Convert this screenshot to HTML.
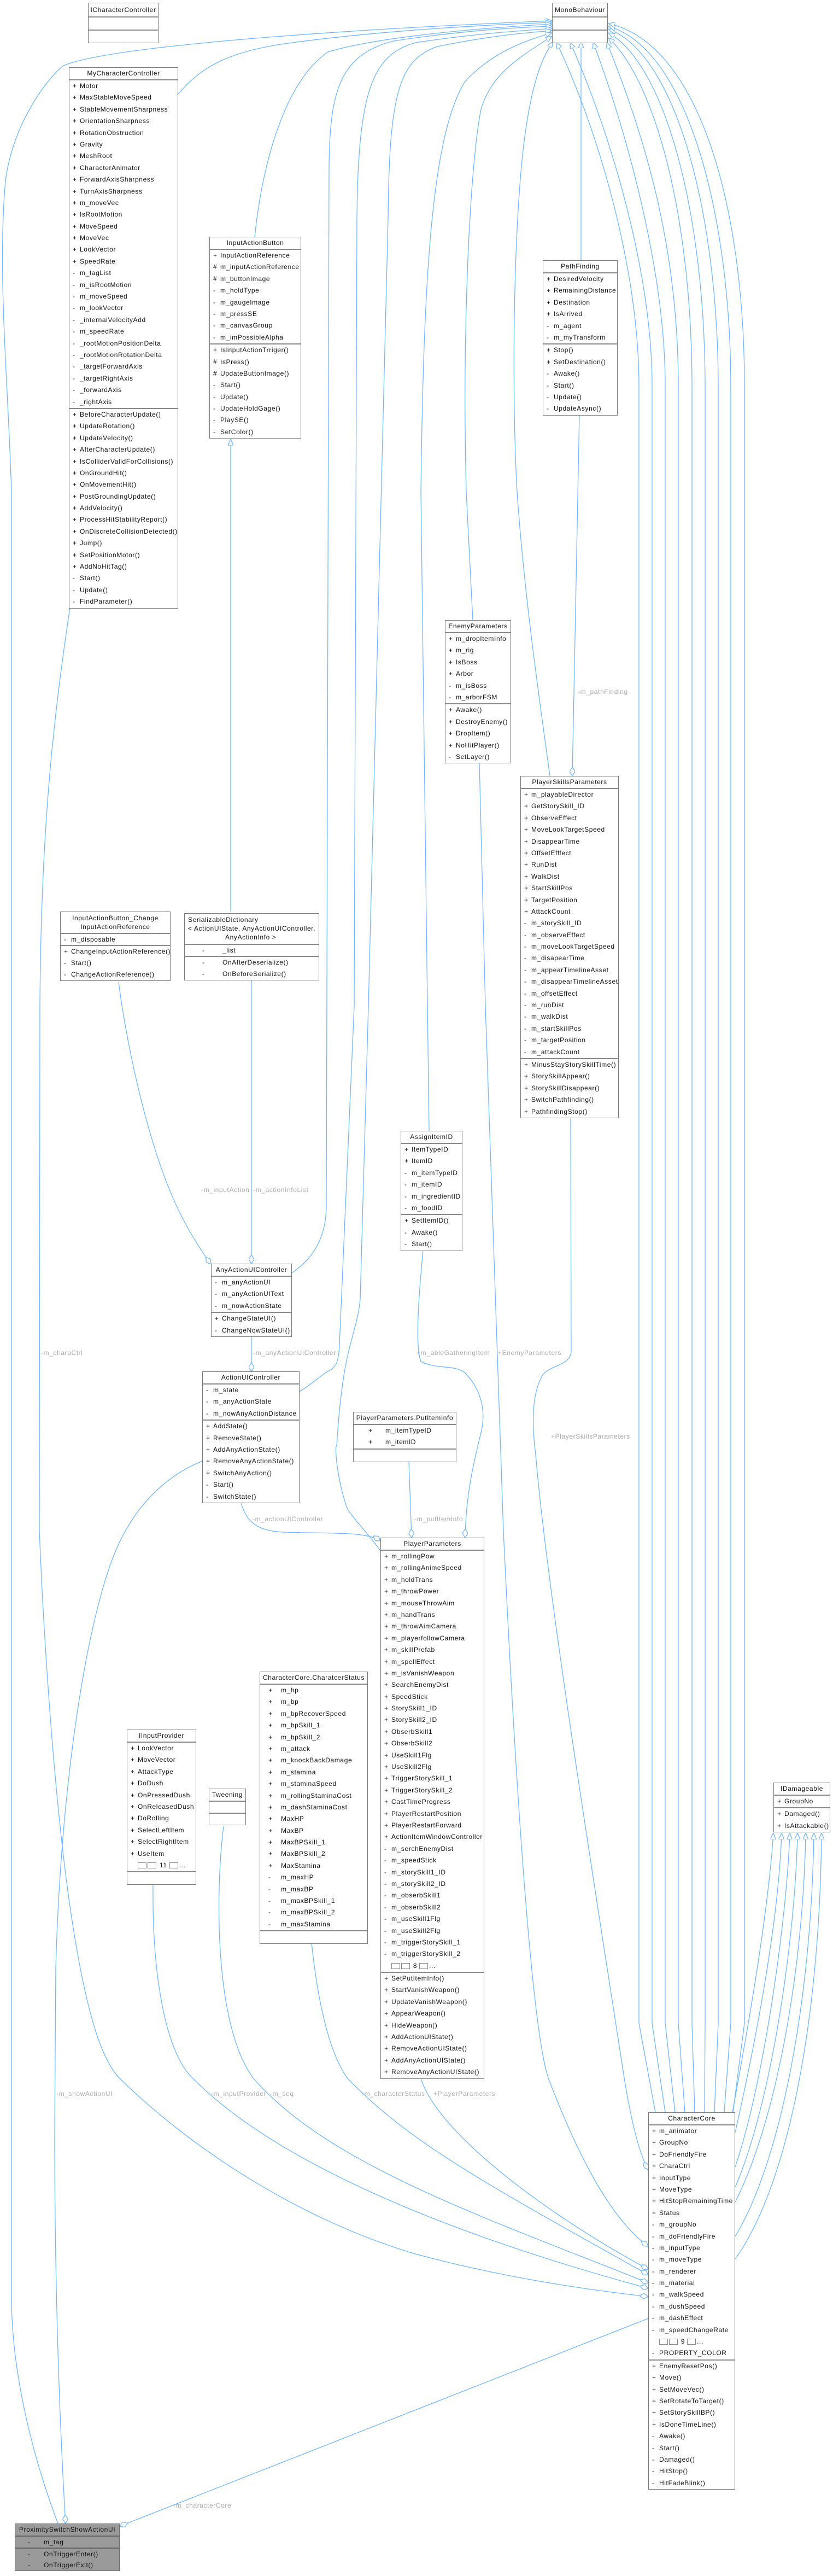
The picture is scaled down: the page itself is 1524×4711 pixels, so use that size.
<!DOCTYPE html>
<html><head><meta charset="utf-8">
<style>
body{margin:0;background:#fff;}
#c{position:relative;width:1524px;height:4711px;overflow:hidden;font-family:"Liberation Sans",sans-serif;font-size:12px;letter-spacing:.6px;color:#111;}
.b{position:absolute;box-sizing:border-box;border:1px solid #7a7a7a;background:#fff;}
.t{text-align:center;height:21px;line-height:21px;border-bottom:2px solid #8a8a8a;white-space:nowrap;}
.s{border-top:2px solid #8a8a8a;}
.t + .s{border-top:none}
.r{height:21.4px;line-height:21.4px;white-space:nowrap;padding-left:19px;position:relative;}
.r i{font-style:normal;position:absolute;left:6px;}
.w .r{padding-left:38px}.w .r i{left:15px}
.e{height:22px}
.lb{position:absolute;color:#aaa;font-size:12px;white-space:nowrap;}
.g{display:inline-block;width:14px;height:9px;border:1px solid #888;margin-right:2px;vertical-align:middle}
svg{position:absolute;left:0;top:0}
</style></head><body><div id="c">
<svg width="1524" height="4711" fill="none" stroke="#6cb6ff" stroke-width="1.3">
<defs>
<marker id="tr" markerUnits="userSpaceOnUse" viewBox="0 0 12 10" refX="12" refY="5" markerWidth="12" markerHeight="10" orient="auto"><path d="M0,0 L12,5 L0,10 z" fill="#fff" stroke="#6cb6ff"/></marker>
<marker id="dm" markerUnits="userSpaceOnUse" viewBox="0 0 16 10" refX="16" refY="5" markerWidth="16" markerHeight="10" orient="auto"><path d="M0,5 L8,0 L16,5 L8,10 z" fill="#fff" stroke="#6cb6ff"/></marker>
</defs>
<g marker-end="url(#tr)">
<path d="M106,4615 C55,4480 21,4330 21,4200 L21,900 C15,700 -5,500 10,330 C25,220 90,140 116,120 C200,85 600,55 1010,38"/>
<path d="M326,172 C370,120 420,95 520,80 C700,55 900,45 1010,41"/>
<path d="M466,433 C480,300 520,150 600,95 C700,65 900,50 1010,44"/>
<path d="M534,2328 C575,2300 598,2260 597,2200 L602,300 C604,170 620,100 720,75 C850,55 950,50 1010,48"/>
<path d="M548,2545 C575,2528 590,2512 605,2505 C618,2498 620,2480 621,2460 L648,1840 L653,400 C655,170 680,100 760,78 C880,60 960,56 1010,52"/>
<path d="M696,2836 C670,2800 640,2770 635,2758 C615,2700 612,2640 616,2644 C620,2580 625,2540 630,2510 C640,2450 655,2420 659,2376 L674,1840 L710,400 C712,170 730,110 800,85 C900,65 960,60 1010,56"/>
<path d="M785,2068 L770,900 C775,500 790,250 850,150 C900,95 960,75 1010,60"/>
<path d="M865,1134 L853,900 C845,600 860,300 880,200 C900,130 960,100 1010,66"/>
<path d="M1006,1419 C990,1300 960,1100 946,900 C935,700 940,400 960,250 C975,140 995,100 1012,76"/>
<path d="M1063,476 L1063,76"/>
<path d="M1199,3863 L1169,3700 L1169,700 C1168,500 1100,250 1018,77"/>
<path d="M1217,3863 L1193,3700 L1193,700 C1192,500 1120,250 1043,77"/>
<path d="M1235,3863 L1217,3700 L1217,700 C1216,500 1150,250 1085,77"/>
<path d="M1253,3863 L1241,3700 L1241,700 C1240,450 1180,250 1110,77"/>
<path d="M1271,3863 L1266,3700 L1266,700 C1265,400 1200,150 1113,69"/>
<path d="M1289,3863 L1290,3700 L1290,700 C1289,400 1220,120 1113,60"/>
<path d="M1307,3863 L1314,3700 L1314,700 C1313,400 1240,100 1113,53"/>
<path d="M1325,3863 L1337,3700 L1337,700 C1336,400 1260,90 1113,48"/>
<path d="M1341,3863 L1362,3700 L1362,700 C1361,380 1280,80 1113,43"/>
<path d="M422,1667 L422,803"/>
<path d="M1340,3863 C1370,3700 1405,3500 1415,3352"/>
<path d="M1345,3900 C1390,3700 1425,3500 1430,3352"/>
<path d="M1345,3963 C1400,3800 1440,3500 1445,3352"/>
<path d="M1345,4000 C1410,3850 1455,3550 1459,3352"/>
<path d="M1345,4027 C1420,3880 1470,3600 1474,3352"/>
<path d="M1345,4090 C1430,3950 1485,3650 1489,3352"/>
<path d="M1345,4131 C1440,4000 1500,3700 1503,3352"/>
</g>
<g marker-end="url(#dm)">
<path d="M1060,758 L1047,1419"/>
<path d="M217,1796 C230,1900 270,2100 330,2220 C350,2260 370,2290 386,2312"/>
<path d="M460,1793 L460,2311"/>
<path d="M460,2443 L460,2508"/>
<path d="M440,2747 C450,2775 460,2800 520,2802 C600,2805 670,2800 696,2818"/>
<path d="M774,2286 C768,2350 758,2460 770,2490 C800,2505 830,2495 850,2510 C880,2540 890,2580 880,2620 C865,2680 852,2740 851,2812"/>
<path d="M748,2673 L753,2812"/>
<path d="M128,1111 C100,1300 75,1500 73,1840 L72,2800 C80,3000 100,3300 130,3500 C160,3700 190,3770 218,3800 C350,3930 550,4060 760,4122 C900,4160 1050,4185 1186,4200"/>
<path d="M370,2672 C300,2700 240,2760 206,2850 C150,3000 110,3300 102,3600 L100,3900 C100,4200 110,4450 120,4615"/>
<path d="M280,3446 C278,3600 300,3750 352,3800 C500,3950 800,4080 1186,4185"/>
<path d="M409,3340 C395,3450 390,3700 463,3800 C600,3960 900,4060 1186,4175"/>
<path d="M570,3553 C580,3650 600,3750 635,3800 C750,3920 900,4000 1186,4160"/>
<path d="M770,3801 C800,3900 1000,4050 1186,4150"/>
<path d="M877,1396 L888,1840 L921,2800 C940,3200 970,3700 1003,3800 C1060,3950 1120,4060 1186,4108"/>
<path d="M1044,2043 L1045,2470 C1045,2500 1000,2495 990,2520 C970,2560 975,2620 980,2660 C1000,2900 1080,3400 1142,3800 C1155,3880 1170,3940 1186,3968"/>
<path d="M1186,4240 L219,4620"/>
</g>
</svg>

<div class="lb" style="left:1057px;top:1258px">-m_pathFinding</div>
<div class="lb" style="left:368px;top:2169px">-m_inputAction</div>
<div class="lb" style="left:463px;top:2169px">-m_actionInfoList</div>
<div class="lb" style="left:75px;top:2467px">-m_charaCtrl</div>
<div class="lb" style="left:463px;top:2467px">-m_anyActionUIController</div>
<div class="lb" style="left:762px;top:2467px">+m_ableGatheringItem</div>
<div class="lb" style="left:911px;top:2467px">+EnemyParameters</div>
<div class="lb" style="left:1008px;top:2620px">+PlayerSkillsParameters</div>
<div class="lb" style="left:462px;top:2771px">-m_actionUIController</div>
<div class="lb" style="left:758px;top:2771px">-m_putItemInfo</div>
<div class="lb" style="left:103px;top:3822px">-m_showActionUI</div>
<div class="lb" style="left:386px;top:3822px">-m_inputProvider</div>
<div class="lb" style="left:494px;top:3822px">-m_seq</div>
<div class="lb" style="left:662px;top:3822px">-m_characterStatus</div>
<div class="lb" style="left:793px;top:3822px">+PlayerParameters</div>
<div class="lb" style="left:317px;top:4575px">-m_characterCore</div>

<div class="b" style="left:161px;top:5px;width:129px"><div class="t" style="height:24px;line-height:24px">ICharacterController</div><div class="s e"></div><div class="s e"></div></div>
<div class="b" style="left:1010px;top:5px;width:102px"><div class="t" style="height:24px;line-height:24px">MonoBehaviour</div><div class="s e"></div><div class="s e"></div></div>

<div class="b" style="left:126px;top:123px;width:200px"><div class="t">MyCharacterController</div>
<div class="s">
<div class="r"><i>+</i>Motor</div><div class="r"><i>+</i>MaxStableMoveSpeed</div><div class="r"><i>+</i>StableMovementSharpness</div><div class="r"><i>+</i>OrientationSharpness</div><div class="r"><i>+</i>RotationObstruction</div><div class="r"><i>+</i>Gravity</div><div class="r"><i>+</i>MeshRoot</div><div class="r"><i>+</i>CharacterAnimator</div><div class="r"><i>+</i>ForwardAxisSharpness</div><div class="r"><i>+</i>TurnAxisSharpness</div><div class="r"><i>+</i>m_moveVec</div><div class="r"><i>+</i>IsRootMotion</div><div class="r"><i>+</i>MoveSpeed</div><div class="r"><i>+</i>MoveVec</div><div class="r"><i>+</i>LookVector</div><div class="r"><i>+</i>SpeedRate</div><div class="r"><i>-</i>m_tagList</div><div class="r"><i>-</i>m_isRootMotion</div><div class="r"><i>-</i>m_moveSpeed</div><div class="r"><i>-</i>m_lookVector</div><div class="r"><i>-</i>_internalVelocityAdd</div><div class="r"><i>-</i>m_speedRate</div><div class="r"><i>-</i>_rootMotionPositionDelta</div><div class="r"><i>-</i>_rootMotionRotationDelta</div><div class="r"><i>-</i>_targetForwardAxis</div><div class="r"><i>-</i>_targetRightAxis</div><div class="r"><i>-</i>_forwardAxis</div><div class="r"><i>-</i>_rightAxis</div>
</div><div class="s">
<div class="r"><i>+</i>BeforeCharacterUpdate()</div><div class="r"><i>+</i>UpdateRotation()</div><div class="r"><i>+</i>UpdateVelocity()</div><div class="r"><i>+</i>AfterCharacterUpdate()</div><div class="r"><i>+</i>IsColliderValidForCollisions()</div><div class="r"><i>+</i>OnGroundHit()</div><div class="r"><i>+</i>OnMovementHit()</div><div class="r"><i>+</i>PostGroundingUpdate()</div><div class="r"><i>+</i>AddVelocity()</div><div class="r"><i>+</i>ProcessHitStabilityReport()</div><div class="r"><i>+</i>OnDiscreteCollisionDetected()</div><div class="r"><i>+</i>Jump()</div><div class="r"><i>+</i>SetPositionMotor()</div><div class="r"><i>+</i>AddNoHitTag()</div><div class="r"><i>-</i>Start()</div><div class="r"><i>-</i>Update()</div><div class="r"><i>-</i>FindParameter()</div>
</div></div>

<div class="b" style="left:383px;top:433px;width:168px"><div class="t">InputActionButton</div>
<div class="s"><div class="r"><i>+</i>InputActionReference</div><div class="r"><i>#</i>m_inputActionReference</div><div class="r"><i>#</i>m_buttonImage</div><div class="r"><i>-</i>m_holdType</div><div class="r"><i>-</i>m_gaugeImage</div><div class="r"><i>-</i>m_pressSE</div><div class="r"><i>-</i>m_canvasGroup</div><div class="r"><i>-</i>m_imPossibleAlpha</div></div>
<div class="s"><div class="r"><i>+</i>IsInputActionTrriger()</div><div class="r"><i>#</i>IsPress()</div><div class="r"><i>#</i>UpdateButtonImage()</div><div class="r"><i>-</i>Start()</div><div class="r"><i>-</i>Update()</div><div class="r"><i>-</i>UpdateHoldGage()</div><div class="r"><i>-</i>PlaySE()</div><div class="r"><i>-</i>SetColor()</div></div></div>

<div class="b" style="left:993px;top:476px;width:137px"><div class="t">PathFinding</div>
<div class="s"><div class="r"><i>+</i>DesiredVelocity</div><div class="r"><i>+</i>RemainingDistance</div><div class="r"><i>+</i>Destination</div><div class="r"><i>+</i>IsArrived</div><div class="r"><i>-</i>m_agent</div><div class="r"><i>-</i>m_myTransform</div></div>
<div class="s"><div class="r"><i>+</i>Stop()</div><div class="r"><i>+</i>SetDestination()</div><div class="r"><i>-</i>Awake()</div><div class="r"><i>-</i>Start()</div><div class="r"><i>-</i>Update()</div><div class="r"><i>-</i>UpdateAsync()</div></div></div>

<div class="b" style="left:814px;top:1134px;width:121px"><div class="t">EnemyParameters</div>
<div class="s"><div class="r"><i>+</i>m_dropItemInfo</div><div class="r"><i>+</i>m_rig</div><div class="r"><i>+</i>IsBoss</div><div class="r"><i>+</i>Arbor</div><div class="r"><i>-</i>m_isBoss</div><div class="r"><i>-</i>m_arborFSM</div></div>
<div class="s"><div class="r"><i>+</i>Awake()</div><div class="r"><i>+</i>DestroyEnemy()</div><div class="r"><i>+</i>DropItem()</div><div class="r"><i>+</i>NoHitPlayer()</div><div class="r"><i>-</i>SetLayer()</div></div></div>

<div class="b" style="left:952px;top:1419px;width:180px"><div class="t">PlayerSkillsParameters</div>
<div class="s"><div class="r"><i>+</i>m_playableDirector</div><div class="r"><i>+</i>GetStorySkill_ID</div><div class="r"><i>+</i>ObserveEffect</div><div class="r"><i>+</i>MoveLookTargetSpeed</div><div class="r"><i>+</i>DisappearTime</div><div class="r"><i>+</i>OffsetEfffect</div><div class="r"><i>+</i>RunDist</div><div class="r"><i>+</i>WalkDist</div><div class="r"><i>+</i>StartSkillPos</div><div class="r"><i>+</i>TargetPosition</div><div class="r"><i>+</i>AttackCount</div><div class="r"><i>-</i>m_storySkill_ID</div><div class="r"><i>-</i>m_observeEffect</div><div class="r"><i>-</i>m_moveLookTargetSpeed</div><div class="r"><i>-</i>m_disapearTime</div><div class="r"><i>-</i>m_appearTimelineAsset</div><div class="r"><i>-</i>m_disappearTimelineAsset</div><div class="r"><i>-</i>m_offsetEffect</div><div class="r"><i>-</i>m_runDist</div><div class="r"><i>-</i>m_walkDist</div><div class="r"><i>-</i>m_startSkillPos</div><div class="r"><i>-</i>m_targetPosition</div><div class="r"><i>-</i>m_attackCount</div></div>
<div class="s"><div class="r"><i>+</i>MinusStayStorySkillTime()</div><div class="r"><i>+</i>StorySkillAppear()</div><div class="r"><i>+</i>StorySkillDisappear()</div><div class="r"><i>+</i>SwitchPathfinding()</div><div class="r"><i>+</i>PathfindingStop()</div></div></div>

<div class="b" style="left:110px;top:1667px;width:202px"><div class="t" style="height:37px;line-height:16px;padding-top:3px;box-sizing:border-box;height:40px">InputActionButton_Change<br>InputActionReference</div>
<div class="s"><div class="r" style="height:20px;line-height:20px"><i>-</i>m_disposable</div></div>
<div class="s"><div class="r" style="height:21px;line-height:21px"><i>+</i>ChangeInputActionReference()</div><div class="r" style="height:21px;line-height:21px"><i>-</i>Start()</div><div class="r" style="height:21px;line-height:21px"><i>-</i>ChangeActionReference()</div></div></div>

<div class="b" style="left:337px;top:1670px;width:247px"><div class="t" style="height:57px;line-height:16px;padding-top:3px;box-sizing:border-box;text-align:left;padding-left:6px">SerializableDictionary<br>&lt; ActionUIState, AnyActionUIController.<br><span style="padding-left:68px">AnyActionInfo &gt;</span></div>
<div class="s"><div class="r" style="height:20px;line-height:20px;padding-left:69px"><i style="left:32px">-</i>_list</div></div>
<div class="s"><div class="r" style="height:21px;line-height:21px;padding-left:69px"><i style="left:32px">-</i>OnAfterDeserialize()</div><div class="r" style="height:21px;line-height:21px;padding-left:69px"><i style="left:32px">-</i>OnBeforeSerialize()</div></div></div>

<div class="b" style="left:733px;top:2068px;width:113px"><div class="t">AssignItemID</div>
<div class="s"><div class="r"><i>+</i>ItemTypeID</div><div class="r"><i>+</i>ItemID</div><div class="r"><i>-</i>m_itemTypeID</div><div class="r"><i>-</i>m_itemID</div><div class="r"><i>-</i>m_ingredientID</div><div class="r"><i>-</i>m_foodID</div></div>
<div class="s"><div class="r"><i>+</i>SetItemID()</div><div class="r"><i>-</i>Awake()</div><div class="r"><i>-</i>Start()</div></div></div>

<div class="b" style="left:386px;top:2311px;width:148px"><div class="t">AnyActionUIController</div>
<div class="s"><div class="r"><i>-</i>m_anyActionUI</div><div class="r"><i>-</i>m_anyActionUIText</div><div class="r"><i>-</i>m_nowActionState</div></div>
<div class="s"><div class="r"><i>+</i>ChangeStateUI()</div><div class="r"><i>-</i>ChangeNowStateUI()</div></div></div>

<div class="b" style="left:370px;top:2508px;width:178px"><div class="t">ActionUIController</div>
<div class="s"><div class="r"><i>-</i>m_state</div><div class="r"><i>-</i>m_anyActionState</div><div class="r"><i>-</i>m_nowAnyActionDistance</div></div>
<div class="s"><div class="r"><i>+</i>AddState()</div><div class="r"><i>+</i>RemoveState()</div><div class="r"><i>+</i>AddAnyActionState()</div><div class="r"><i>+</i>RemoveAnyActionState()</div><div class="r"><i>+</i>SwitchAnyAction()</div><div class="r"><i>-</i>Start()</div><div class="r"><i>-</i>SwitchState()</div></div></div>

<div class="b" style="left:646px;top:2582px;width:189px"><div class="t">PlayerParameters.PutItemInfo</div>
<div class="s"><div class="r" style="padding-left:58px"><i style="left:27px">+</i>m_itemTypeID</div><div class="r" style="padding-left:58px"><i style="left:27px">+</i>m_itemID</div></div>
<div class="s e"></div></div>

<div class="b" style="left:696px;top:2812px;width:190px"><div class="t">PlayerParameters</div>
<div class="s"><div class="r"><i>+</i>m_rollingPow</div><div class="r"><i>+</i>m_rollingAnimeSpeed</div><div class="r"><i>+</i>m_holdTrans</div><div class="r"><i>+</i>m_throwPower</div><div class="r"><i>+</i>m_mouseThrowAim</div><div class="r"><i>+</i>m_handTrans</div><div class="r"><i>+</i>m_throwAimCamera</div><div class="r"><i>+</i>m_playerfollowCamera</div><div class="r"><i>+</i>m_skillPrefab</div><div class="r"><i>+</i>m_spellEffect</div><div class="r"><i>+</i>m_isVanishWeapon</div><div class="r"><i>+</i>SearchEnemyDist</div><div class="r"><i>+</i>SpeedStick</div><div class="r"><i>+</i>StorySkill1_ID</div><div class="r"><i>+</i>StorySkill2_ID</div><div class="r"><i>+</i>ObserbSkill1</div><div class="r"><i>+</i>ObserbSkill2</div><div class="r"><i>+</i>UseSkill1Flg</div><div class="r"><i>+</i>UseSkill2Flg</div><div class="r"><i>+</i>TriggerStorySkill_1</div><div class="r"><i>+</i>TriggerStorySkill_2</div><div class="r"><i>+</i>CastTimeProgress</div><div class="r"><i>+</i>PlayerRestartPosition</div><div class="r"><i>+</i>PlayerRestartForward</div><div class="r"><i>+</i>ActionItemWindowController</div><div class="r"><i>-</i>m_serchEnemyDist</div><div class="r"><i>-</i>m_speedStick</div><div class="r"><i>-</i>m_storySkill1_ID</div><div class="r"><i>-</i>m_storySkill2_ID</div><div class="r"><i>-</i>m_obserbSkill1</div><div class="r"><i>-</i>m_obserbSkill2</div><div class="r"><i>-</i>m_useSkill1Flg</div><div class="r"><i>-</i>m_useSkill2Flg</div><div class="r"><i>-</i>m_triggerStorySkill_1</div><div class="r"><i>-</i>m_triggerStorySkill_2</div><div class="r"><span class="g"></span><span class="g"></span> 8 <span class="g"></span>...</div></div>
<div class="s"><div class="r"><i>+</i>SetPutItemInfo()</div><div class="r"><i>+</i>StartVanishWeapon()</div><div class="r"><i>+</i>UpdateVanishWeapon()</div><div class="r"><i>+</i>AppearWeapon()</div><div class="r"><i>+</i>HideWeapon()</div><div class="r"><i>+</i>AddActionUIState()</div><div class="r"><i>+</i>RemoveActionUIState()</div><div class="r"><i>+</i>AddAnyActionUIState()</div><div class="r"><i>+</i>RemoveAnyActionUIState()</div></div></div>

<div class="b w" style="left:475px;top:3057px;width:198px"><div class="t">CharacterCore.CharatcerStatus</div>
<div class="s"><div class="r"><i>+</i>m_hp</div><div class="r"><i>+</i>m_bp</div><div class="r"><i>+</i>m_bpRecoverSpeed</div><div class="r"><i>+</i>m_bpSkill_1</div><div class="r"><i>+</i>m_bpSkill_2</div><div class="r"><i>+</i>m_attack</div><div class="r"><i>+</i>m_knockBackDamage</div><div class="r"><i>+</i>m_stamina</div><div class="r"><i>+</i>m_staminaSpeed</div><div class="r"><i>+</i>m_rollingStaminaCost</div><div class="r"><i>+</i>m_dashStaminaCost</div><div class="r"><i>+</i>MaxHP</div><div class="r"><i>+</i>MaxBP</div><div class="r"><i>+</i>MaxBPSkill_1</div><div class="r"><i>+</i>MaxBPSkill_2</div><div class="r"><i>+</i>MaxStamina</div><div class="r"><i>-</i>m_maxHP</div><div class="r"><i>-</i>m_maxBP</div><div class="r"><i>-</i>m_maxBPSkill_1</div><div class="r"><i>-</i>m_maxBPSkill_2</div><div class="r"><i>-</i>m_maxStamina</div></div>
<div class="s e"></div></div>

<div class="b" style="left:232px;top:3163px;width:127px"><div class="t">IInputProvider</div>
<div class="s"><div class="r"><i>+</i>LookVector</div><div class="r"><i>+</i>MoveVector</div><div class="r"><i>+</i>AttackType</div><div class="r"><i>+</i>DoDush</div><div class="r"><i>+</i>OnPressedDush</div><div class="r"><i>+</i>OnReleasedDush</div><div class="r"><i>+</i>DoRolling</div><div class="r"><i>+</i>SelectLeftItem</div><div class="r"><i>+</i>SelectRightItem</div><div class="r"><i>+</i>UseItem</div><div class="r"><span class="g"></span><span class="g"></span> 11 <span class="g"></span>...</div></div>
<div class="s e"></div></div>

<div class="b" style="left:382px;top:3271px;width:68px"><div class="t">Tweening</div><div class="s e" style="height:20px"></div><div class="s e" style="height:20px"></div></div>

<div class="b" style="left:1415px;top:3260px;width:104px"><div class="t">IDamageable</div>
<div class="s"><div class="r"><i>+</i>GroupNo</div></div>
<div class="s"><div class="r"><i>+</i>Damaged()</div><div class="r"><i>+</i>IsAttackable()</div></div></div>

<div class="b" style="left:1186px;top:3863px;width:159px"><div class="t">CharacterCore</div>
<div class="s"><div class="r"><i>+</i>m_animator</div><div class="r"><i>+</i>GroupNo</div><div class="r"><i>+</i>DoFriendlyFire</div><div class="r"><i>+</i>CharaCtrl</div><div class="r"><i>+</i>InputType</div><div class="r"><i>+</i>MoveType</div><div class="r"><i>+</i>HitStopRemainingTime</div><div class="r"><i>+</i>Status</div><div class="r"><i>-</i>m_groupNo</div><div class="r"><i>-</i>m_doFriendlyFire</div><div class="r"><i>-</i>m_inputType</div><div class="r"><i>-</i>m_moveType</div><div class="r"><i>-</i>m_renderer</div><div class="r"><i>-</i>m_material</div><div class="r"><i>-</i>m_walkSpeed</div><div class="r"><i>-</i>m_dushSpeed</div><div class="r"><i>-</i>m_dashEffect</div><div class="r"><i>-</i>m_speedChangeRate</div><div class="r"><span class="g"></span><span class="g"></span> 9 <span class="g"></span>...</div><div class="r"><i>-</i>PROPERTY_COLOR</div></div>
<div class="s"><div class="r"><i>+</i>EnemyResetPos()</div><div class="r"><i>+</i>Move()</div><div class="r"><i>+</i>SetMoveVec()</div><div class="r"><i>+</i>SetRotateToTarget()</div><div class="r"><i>+</i>SetStorySkillBP()</div><div class="r"><i>+</i>IsDoneTimeLine()</div><div class="r"><i>-</i>Awake()</div><div class="r"><i>-</i>Start()</div><div class="r"><i>-</i>Damaged()</div><div class="r"><i>-</i>HitStop()</div><div class="r"><i>-</i>HitFadeBlink()</div></div></div>

<div class="b" style="left:27px;top:4615px;width:192px;background:#9a9a9a;border-color:#666"><div class="t" style="border-color:#666">ProximitySwitchShowActionUI</div>
<div class="s" style="border-color:#666"><div class="r" style="height:20px;line-height:20px;padding-left:52px"><i style="left:23px">-</i>m_tag</div></div>
<div class="s" style="border-color:#666"><div class="r" style="height:20px;line-height:20px;padding-left:52px"><i style="left:23px">-</i>OnTriggerEnter()</div><div class="r" style="height:20px;line-height:20px;padding-left:52px"><i style="left:23px">-</i>OnTriggerExit()</div></div></div>

</div></body></html>
